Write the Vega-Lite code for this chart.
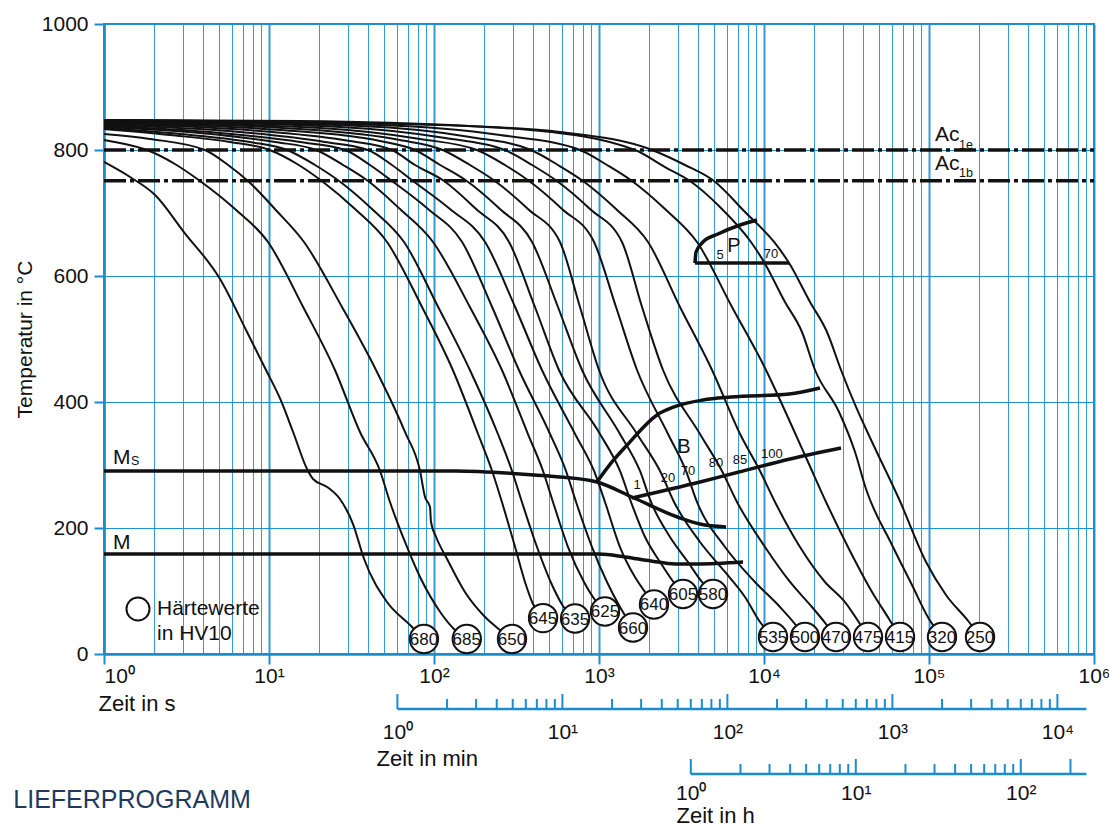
{
  "$schema": "https://vega.github.io/schema/vega-lite/v6.json",
  "padding": {"left": 13, "top": 12, "right": 0, "bottom": 0},
  "bounds": "flush",
  "spacing": 40,
  "config": {"font": "Liberation Sans", "view": {"stroke": null}, "text": {"color": "#111111"}},
  "title": {"text": "LIEFERPROGRAMM", "orient": "bottom", "anchor": "start", "frame": "bounds", "offset": -38, "fontSize": 25, "fontWeight": "normal", "color": "#1d3b5e"},
  "datasets": {
    "curves": [
      {"id":"680","t":1,"T":781},{"id":"680","t":1.438,"T":757.1},{"id":"680","t":2.04,"T":728.6},{"id":"680","t":3.05,"T":669.8},{"id":"680","t":5.05,"T":595.2},{"id":"680","t":7.36,"T":511.1},{"id":"680","t":9.59,"T":450.8},{"id":"680","t":11.7,"T":404.8},{"id":"680","t":14.0,"T":352.4},{"id":"680","t":17.0,"T":293.7},{"id":"680","t":18.5,"T":277.8},{"id":"680","t":22.5,"T":265.1},{"id":"680","t":26.9,"T":246},{"id":"680","t":32.3,"T":206.3},{"id":"680","t":37.7,"T":150.8},{"id":"680","t":51.9,"T":82.5},{"id":"680","t":71.6,"T":46},{"id":"680","t":86.9,"T":23.8},
      {"id":"685","t":1,"T":815.9},{"id":"685","t":1.34,"T":809.5},{"id":"685","t":1.82,"T":800},{"id":"685","t":2.69,"T":777.8},{"id":"685","t":3.82,"T":750.8},{"id":"685","t":6.22,"T":706.3},{"id":"685","t":9.86,"T":654},{"id":"685","t":16.1,"T":550.8},{"id":"685","t":25.1,"T":450.8},{"id":"685","t":35.6,"T":352.4},{"id":"685","t":47.1,"T":290.5},{"id":"685","t":54.1,"T":241.3},{"id":"685","t":66.7,"T":177.8},{"id":"685","t":82.3,"T":122.2},{"id":"685","t":109,"T":66.7},{"id":"685","t":134,"T":38.1},{"id":"685","t":158,"T":23.8},
      {"id":"650","t":1,"T":825.4},{"id":"650","t":1.9,"T":817.5},{"id":"650","t":4.09,"T":800},{"id":"650","t":5.65,"T":776.2},{"id":"650","t":7.46,"T":750.8},{"id":"650","t":11,"T":704.8},{"id":"650","t":16.3,"T":654},{"id":"650","t":27.7,"T":550.8},{"id":"650","t":44.5,"T":450.8},{"id":"650","t":66.7,"T":352.4},{"id":"650","t":82.3,"T":290.5},{"id":"650","t":88.2,"T":249.2},{"id":"650","t":94.6,"T":233.3},{"id":"650","t":95.9,"T":209.5},{"id":"650","t":103,"T":185.7},{"id":"650","t":120,"T":150.8},{"id":"650","t":154,"T":98.4},{"id":"650","t":204,"T":58.7},{"id":"650","t":251,"T":38.1},{"id":"650","t":297,"T":23.8},
      {"id":"645","t":1,"T":833.3},{"id":"645","t":2.51,"T":823.8},{"id":"645","t":5.8,"T":812.7},{"id":"645","t":10.1,"T":800},{"id":"645","t":14.8,"T":777.8},{"id":"645","t":20.9,"T":750.8},{"id":"645","t":33.2,"T":706.3},{"id":"645","t":51.9,"T":654},{"id":"645","t":84.6,"T":550.8},{"id":"645","t":130,"T":450.8},{"id":"645","t":185,"T":349.2},{"id":"645","t":225,"T":290.5},{"id":"645","t":258,"T":241.3},{"id":"645","t":310,"T":169.8},{"id":"645","t":356,"T":114.3},{"id":"645","t":398,"T":79.4},{"id":"645","t":458,"T":57},
      {"id":"635","t":1,"T":834.9},{"id":"635","t":2.89,"T":825.4},{"id":"635","t":7.67,"T":812.7},{"id":"635","t":12.9,"T":800},{"id":"635","t":19,"T":776.2},{"id":"635","t":26.6,"T":750.8},{"id":"635","t":42.1,"T":706.3},{"id":"635","t":65.8,"T":654},{"id":"635","t":106,"T":550.8},{"id":"635","t":165,"T":450.8},{"id":"635","t":244,"T":349.2},{"id":"635","t":297,"T":290.5},{"id":"635","t":341,"T":241.3},{"id":"635","t":421,"T":169.8},{"id":"635","t":526,"T":106.3},{"id":"635","t":605,"T":76.2},{"id":"635","t":716,"T":56.3},
      {"id":"625","t":1,"T":836.5},{"id":"625","t":3.82,"T":827},{"id":"625","t":10.9,"T":812.7},{"id":"625","t":19.3,"T":800},{"id":"625","t":28.1,"T":776.2},{"id":"625","t":39.8,"T":750.8},{"id":"625","t":62.2,"T":706.3},{"id":"625","t":98.6,"T":654},{"id":"625","t":165,"T":550.8},{"id":"625","t":258,"T":450.8},{"id":"625","t":371,"T":349.2},{"id":"625","t":458,"T":290.5},{"id":"625","t":526,"T":241.3},{"id":"625","t":649,"T":169.8},{"id":"625","t":811,"T":114.3},{"id":"625","t":946,"T":85.7},{"id":"625","t":1087,"T":67.5},
      {"id":"660","t":1,"T":838.1},{"id":"660","t":5.05,"T":827},{"id":"660","t":15.4,"T":812.7},{"id":"660","t":28.9,"T":800},{"id":"660","t":40.9,"T":776.2},{"id":"660","t":55.6,"T":750.8},{"id":"660","t":92,"T":706.3},{"id":"660","t":148,"T":654},{"id":"660","t":225,"T":550.8},{"id":"660","t":327,"T":450.8},{"id":"660","t":505,"T":349.2},{"id":"660","t":631,"T":290.5},{"id":"660","t":726,"T":241.3},{"id":"660","t":907,"T":169.8},{"id":"660","t":1118,"T":114.3},{"id":"660","t":1340,"T":74.6},{"id":"660","t":1607,"T":42},
      {"id":"640","t":1,"T":839.7},{"id":"640","t":6.67,"T":828.6},{"id":"640","t":21.8,"T":812.7},{"id":"640","t":39.8,"T":800},{"id":"640","t":55.6,"T":776.2},{"id":"640","t":74.6,"T":750.8},{"id":"640","t":125,"T":706.3},{"id":"640","t":204,"T":654},{"id":"640","t":310,"T":550.8},{"id":"640","t":451,"T":450.8},{"id":"640","t":716,"T":349.2},{"id":"640","t":933,"T":290.5},{"id":"640","t":1087,"T":241.3},{"id":"640","t":1340,"T":169.8},{"id":"640","t":1652,"T":122.2},{"id":"640","t":1901,"T":98.4},{"id":"640","t":2154,"T":78.6},
      {"id":"605","t":1,"T":841.3},{"id":"605","t":8.82,"T":830.2},{"id":"605","t":31,"T":814.3},{"id":"605","t":55.6,"T":800},{"id":"605","t":76.7,"T":776.2},{"id":"605","t":115,"T":750.8},{"id":"605","t":180,"T":706.3},{"id":"605","t":285,"T":654},{"id":"605","t":409,"T":550.8},{"id":"605","t":572,"T":450.8},{"id":"605","t":1014,"T":349.2},{"id":"605","t":1340,"T":290.5},{"id":"605","t":1563,"T":241.3},{"id":"605","t":1901,"T":185.7},{"id":"605","t":2344,"T":146},{"id":"605","t":2770,"T":117.5},{"id":"605","t":3229,"T":95.2},
      {"id":"580","t":1,"T":842.9},{"id":"580","t":11.7,"T":831.7},{"id":"580","t":47.1,"T":814.3},{"id":"580","t":76.7,"T":800},{"id":"580","t":109,"T":776.2},{"id":"580","t":158,"T":750.8},{"id":"580","t":251,"T":706.3},{"id":"580","t":393,"T":654},{"id":"580","t":564,"T":550.8},{"id":"580","t":789,"T":450.8},{"id":"580","t":1340,"T":349.2},{"id":"580","t":1772,"T":290.5},{"id":"580","t":2066,"T":241.3},{"id":"580","t":2693,"T":185.7},{"id":"580","t":3460,"T":146},{"id":"580","t":4207,"T":114.3},{"id":"580","t":4909,"T":95.2},
      {"id":"535","t":1,"T":844.4},{"id":"535","t":15.4,"T":833.3},{"id":"535","t":62.2,"T":815.9},{"id":"535","t":113,"T":800},{"id":"535","t":165,"T":776.2},{"id":"535","t":234,"T":750.8},{"id":"535","t":371,"T":706.3},{"id":"535","t":580,"T":654},{"id":"535","t":767,"T":550.8},{"id":"535","t":1000,"T":450.8},{"id":"535","t":1700,"T":349.2},{"id":"535","t":2344,"T":290.5},{"id":"535","t":2849,"T":241.3},{"id":"535","t":4093,"T":177.8},{"id":"535","t":5804,"T":130.2},{"id":"535","t":7674,"T":90.5},{"id":"535","t":9460,"T":50.8},{"id":"535","t":11340,"T":27},
      {"id":"500","t":1,"T":844.4},{"id":"500","t":20.4,"T":834.9},{"id":"500","t":82.3,"T":817.5},{"id":"500","t":182,"T":800},{"id":"500","t":269,"T":776.2},{"id":"500","t":377,"T":750.8},{"id":"500","t":597,"T":706.3},{"id":"500","t":933,"T":654},{"id":"500","t":1268,"T":550.8},{"id":"500","t":1700,"T":450.8},{"id":"500","t":2620,"T":349.2},{"id":"500","t":3367,"T":290.5},{"id":"500","t":3926,"T":241.3},{"id":"500","t":5804,"T":169.8},{"id":"500","t":8818,"T":114.3},{"id":"500","t":12500,"T":74.6},{"id":"500","t":15420,"T":47.6},{"id":"500","t":17710,"T":27},
      {"id":"470","t":1,"T":846},{"id":"470","t":26.9,"T":836.5},{"id":"470","t":117,"T":819},{"id":"470","t":269,"T":800},{"id":"470","t":393,"T":776.2},{"id":"470","t":556,"T":750.8},{"id":"470","t":882,"T":706.3},{"id":"470","t":1378,"T":654},{"id":"470","t":1823,"T":550.8},{"id":"470","t":2443,"T":450.8},{"id":"470","t":4093,"T":349.2},{"id":"470","t":5561,"T":290.5},{"id":"470","t":6860,"T":241.3},{"id":"470","t":10140,"T":169.8},{"id":"470","t":14380,"T":114.3},{"id":"470","t":19540,"T":74.6},{"id":"470","t":23770,"T":47.6},{"id":"470","t":27310,"T":27},
      {"id":"475","t":1,"T":846},{"id":"475","t":35.6,"T":838.1},{"id":"475","t":165,"T":820.6},{"id":"475","t":387,"T":800},{"id":"475","t":564,"T":776.2},{"id":"475","t":800,"T":750.8},{"id":"475","t":1268,"T":706.3},{"id":"475","t":1982,"T":654},{"id":"475","t":3097,"T":550.8},{"id":"475","t":4842,"T":450.8},{"id":"475","t":7159,"T":349.2},{"id":"475","t":9460,"T":290.5},{"id":"475","t":11660,"T":241.3},{"id":"475","t":16520,"T":169.8},{"id":"475","t":23420,"T":114.3},{"id":"475","t":30960,"T":82.5},{"id":"475","t":38190,"T":47.6},{"id":"475","t":42690,"T":27},
      {"id":"415","t":1,"T":847.6},{"id":"415","t":47.1,"T":839.7},{"id":"415","t":251,"T":823.8},{"id":"415","t":767,"T":800},{"id":"415","t":1118,"T":776.2},{"id":"415","t":1585,"T":750.8},{"id":"415","t":2512,"T":706.3},{"id":"415","t":3926,"T":654},{"id":"415","t":6397,"T":550.8},{"id":"415","t":10280,"T":450.8},{"id":"415","t":14380,"T":368.3},{"id":"415","t":18490,"T":304.8},{"id":"415","t":23770,"T":241.3},{"id":"415","t":32740,"T":166.7},{"id":"415","t":45170,"T":98.4},{"id":"415","t":57250,"T":55.6},{"id":"415","t":66730,"T":27},
      {"id":"320","t":1,"T":847.6},{"id":"320","t":62.2,"T":841.3},{"id":"320","t":382,"T":831.7},{"id":"320","t":1652,"T":800},{"id":"320","t":2512,"T":773},{"id":"320","t":3562,"T":750.8},{"id":"320","t":5411,"T":709.5},{"id":"320","t":8339,"T":654},{"id":"320","t":10000,"T":622.2},{"id":"320","t":13400,"T":558.7},{"id":"320","t":16990,"T":511.1},{"id":"320","t":20380,"T":450.8},{"id":"320","t":28500,"T":384.1},{"id":"320","t":35620,"T":320.6},{"id":"320","t":41520,"T":261.9},{"id":"320","t":59700,"T":173},{"id":"320","t":78850,"T":109.5},{"id":"320","t":100000,"T":55.6},{"id":"320","t":119900,"T":27},
      {"id":"250","t":1,"T":847.6},{"id":"250","t":15.4,"T":846},{"id":"250","t":165,"T":838.1},{"id":"250","t":580,"T":828.6},{"id":"250","t":2094,"T":800},{"id":"250","t":3320,"T":776.2},{"id":"250","t":4977,"T":750.8},{"id":"250","t":7674,"T":701.6},{"id":"250","t":11510,"T":654},{"id":"250","t":14190,"T":620.6},{"id":"250","t":19010,"T":558.7},{"id":"250","t":24090,"T":511.1},{"id":"250","t":29290,"T":450.8},{"id":"250","t":36110,"T":392.1},{"id":"250","t":45170,"T":336.5},{"id":"250","t":65800,"T":246},{"id":"250","t":95940,"T":146},{"id":"250","t":126800,"T":93.7},{"id":"250","t":174700,"T":50.8},{"id":"250","t":203800,"T":27}
    ],
    "phase": [
      {"id":"Ms","t":1,"T":290.5},{"id":"Ms","t":136,"T":290.5},{"id":"Ms","t":332,"T":285.7},{"id":"Ms","t":580,"T":281},{"id":"Ms","t":972,"T":273},{"id":"Ms","t":1630,"T":247.6},{"id":"Ms","t":3097,"T":215.9},{"id":"Ms","t":4093,"T":206.3},{"id":"Ms","t":5888,"T":201.6},
      {"id":"M","t":1,"T":158.7},{"id":"M","t":1000,"T":158.7},{"id":"M","t":1437,"T":154},{"id":"M","t":2066,"T":147.6},{"id":"M","t":2890,"T":142.9},{"id":"M","t":3926,"T":142.9},{"id":"M","t":7460,"T":146},
      {"id":"Bs","t":972,"T":273},{"id":"Bs","t":1199,"T":304.8},{"id":"Bs","t":1500,"T":333.3},{"id":"Bs","t":2248,"T":379.4},{"id":"Bs","t":2849,"T":392.1},{"id":"Bs","t":4268,"T":403.2},{"id":"Bs","t":6310,"T":407.9},{"id":"Bs","t":14190,"T":412.7},{"id":"Bs","t":21840,"T":422.2},
      {"id":"Bf","t":1585,"T":247.6},{"id":"Bf","t":4093,"T":273},{"id":"Bf","t":7047,"T":288.9},{"id":"Bf","t":14380,"T":309.5},{"id":"Bf","t":29290,"T":327},
      {"id":"P","t":3819,"T":620.6},{"id":"P","t":3872,"T":638.1},{"id":"P","t":4268,"T":654},{"id":"P","t":5264,"T":666.7},{"id":"P","t":7159,"T":681},{"id":"P","t":9074,"T":688.9},
      {"id":"Pb","t":3819,"T":620.6},{"id":"Pb","t":14190,"T":620.6}
    ],
    "ac": [
      {"id":"Ac1e","t":1,"T":800},{"id":"Ac1e","t":1000000,"T":800},
      {"id":"Ac1b","t":1,"T":751},{"id":"Ac1b","t":1000000,"T":751}
    ],
    "hard": [
      {"t":86.9,"T":23.8,"hv":"680"},{"t":158,"T":23.8,"hv":"685"},{"t":297,"T":23.8,"hv":"650"},{"t":458,"T":57,"hv":"645"},{"t":716,"T":56.3,"hv":"635"},{"t":1087,"T":67.5,"hv":"625"},{"t":1607,"T":42,"hv":"660"},{"t":2154,"T":78.6,"hv":"640"},{"t":3229,"T":95.2,"hv":"605"},{"t":4909,"T":95.2,"hv":"580"},{"t":11340,"T":27,"hv":"535"},{"t":17710,"T":27,"hv":"500"},{"t":27310,"T":27,"hv":"470"},{"t":42690,"T":27,"hv":"475"},{"t":66730,"T":27,"hv":"415"},{"t":119900,"T":27,"hv":"320"},{"t":203800,"T":27,"hv":"250"}
    ],
    "minTicks": [
      {"m":1,"major":true},{"m":2,"major":false},{"m":3,"major":false},{"m":4,"major":false},{"m":5,"major":false},{"m":6,"major":false},{"m":7,"major":false},{"m":8,"major":false},{"m":9,"major":false},
      {"m":10,"major":true},{"m":20,"major":false},{"m":30,"major":false},{"m":40,"major":false},{"m":50,"major":false},{"m":60,"major":false},{"m":70,"major":false},{"m":80,"major":false},{"m":90,"major":false},
      {"m":100,"major":true},{"m":200,"major":false},{"m":300,"major":false},{"m":400,"major":false},{"m":500,"major":false},{"m":600,"major":false},{"m":700,"major":false},{"m":800,"major":false},{"m":900,"major":false},
      {"m":1000,"major":true},{"m":2000,"major":false},{"m":3000,"major":false},{"m":4000,"major":false},{"m":5000,"major":false},{"m":6000,"major":false},{"m":7000,"major":false},{"m":8000,"major":false},{"m":9000,"major":false},
      {"m":10000,"major":true}
    ],
    "hTicks": [
      {"m":1,"major":true},{"m":2,"major":false},{"m":3,"major":false},{"m":4,"major":false},{"m":5,"major":false},{"m":6,"major":false},{"m":7,"major":false},{"m":8,"major":false},{"m":9,"major":false},
      {"m":10,"major":true},{"m":20,"major":false},{"m":30,"major":false},{"m":40,"major":false},{"m":50,"major":false},{"m":60,"major":false},{"m":70,"major":false},{"m":80,"major":false},{"m":90,"major":false},
      {"m":100,"major":true},{"m":200,"major":true}
    ]
  },
  "vconcat": [
    {
      "width": 990,
      "height": 630,
      "view": {"stroke": "#1a8dd0", "strokeWidth": 2},
      "encoding": {
        "x": {
          "field": "t", "type": "quantitative",
          "scale": {"type": "log", "domain": [1, 1000000], "nice": false},
          "axis": {
            "values": [1,2,3,4,5,6,7,8,9,10,20,30,40,50,60,70,80,90,100,200,300,400,500,600,700,800,900,1000,2000,3000,4000,5000,6000,7000,8000,9000,10000,20000,30000,40000,50000,60000,70000,80000,90000,100000,200000,300000,400000,500000,600000,700000,800000,900000,1000000],
            "labelExpr": "indexof([1,10,100,1000,10000,100000,1000000], datum.value) >= 0 ? '10' + ['⁰','¹','²','³','⁴','⁵','⁶'][round(log(datum.value)/LN10)] : ''",
            "labelFontSize": 21, "labelPadding": 1, "labelFlush": false, "labelOverlap": false, "labelBound": false, "labelColor": "#111111",
            "labelAlign": {"condition": {"test": "datum.value == 1", "value": "left"}, "value": "center"},
            "tickSize": 10, "tickWidth": 2, "tickColor": "#1a8dd0",
            "tickOpacity": {"condition": {"test": "indexof([1,10,100,1000,10000,100000,1000000], datum.value) >= 0", "value": 1}, "value": 0},
            "domainColor": "#1a8dd0", "domainWidth": 2.5,
            "grid": true, "gridColor": "#1e8fd2", "gridOpacity": 0.9,
            "gridWidth": {"condition": {"test": "indexof([1,10,100,1000,10000,100000,1000000], datum.value) >= 0", "value": 2}, "value": 1},
            "title": "Zeit in s", "titleFontSize": 22, "titleFontWeight": "normal", "titleColor": "#111111",
            "titleAlign": "left", "titleBaseline": "alphabetic", "titleX": -6, "titleY": 56
          }
        },
        "y": {
          "field": "T", "type": "quantitative",
          "scale": {"domain": [0, 1000], "nice": false},
          "axis": {
            "values": [0,200,400,600,800,1000], "format": "d",
            "tickSize": 10, "tickWidth": 2, "tickColor": "#1a8dd0",
            "domainColor": "#1a8dd0", "domainWidth": 2.5,
            "grid": true, "gridColor": "#1e8fd2", "gridWidth": 1.2,
            "labelFontSize": 21, "labelPadding": 6, "labelColor": "#111111",
            "title": "Temperatur in °C", "titleFontSize": 21, "titleFontWeight": "normal", "titlePadding": 6, "titleColor": "#111111"
          }
        }
      },
      "layer": [
        {
          "data": {"values": [{}]},
          "mark": {"type": "rect", "fill": "white"},
          "encoding": {"x": {"datum": 1.2}, "x2": {"datum": 11.5}, "y": {"datum": 2}, "y2": {"datum": 103}}
        },
        {
          "data": {"name": "curves"},
          "mark": {"type": "line", "color": "#111111", "strokeWidth": 2, "interpolate": "monotone"},
          "encoding": {"detail": {"field": "id"}}
        },
        {
          "data": {"name": "phase"},
          "mark": {"type": "line", "color": "#111111", "strokeWidth": 3.5, "interpolate": "monotone"},
          "encoding": {"detail": {"field": "id"}}
        },
        {
          "data": {"name": "ac"},
          "mark": {"type": "line", "color": "#111111", "strokeWidth": 3.5, "strokeDash": [22, 4, 4, 4]},
          "encoding": {"detail": {"field": "id"}}
        },
        {
          "data": {"values": [{"t": 1.607, "T": 71.4}]},
          "mark": {"type": "point", "shape": "circle", "filled": true, "fill": "white", "stroke": "#111111", "strokeWidth": 2, "size": 531, "opacity": 1}
        },
        {
          "data": {"name": "hard"},
          "mark": {"type": "point", "shape": "circle", "filled": true, "fill": "white", "stroke": "#111111", "strokeWidth": 2, "size": 804, "opacity": 1}
        },
        {
          "data": {"name": "hard"},
          "mark": {"type": "text", "fontSize": 17, "align": "center", "baseline": "middle", "dy": 1},
          "encoding": {"text": {"field": "hv"}}
        },
        {
          "data": {"values": [
            {"t": 1.134, "T": 301.6, "text": "M"},
            {"t": 1.134, "T": 166.7, "text": "M"},
            {"t": 108700, "T": 814.3, "text": "Ac"},
            {"t": 108700, "T": 768.3, "text": "Ac"},
            {"t": 2.095, "T": 61.9, "text": "Härtewerte"},
            {"t": 2.095, "T": 22.2, "text": "in HV10"}
          ]},
          "mark": {"type": "text", "fontSize": 21, "align": "left", "baseline": "alphabetic"},
          "encoding": {"text": {"field": "text"}}
        },
        {
          "data": {"values": [
            {"t": 1.46, "T": 300, "text": "S"},
            {"t": 152000, "T": 801.6, "text": "1e"},
            {"t": 152000, "T": 757.1, "text": "1b"}
          ]},
          "mark": {"type": "text", "fontSize": 12.5, "align": "left", "baseline": "alphabetic"},
          "encoding": {"text": {"field": "text"}}
        },
        {
          "data": {"values": [
            {"t": 6577, "T": 647.6, "text": "P"},
            {"t": 3276, "T": 328.6, "text": "B"}
          ]},
          "mark": {"type": "text", "fontSize": 20, "align": "center", "baseline": "middle"},
          "encoding": {"text": {"field": "text"}}
        },
        {
          "data": {"values": [
            {"t": 5411, "T": 633.3, "text": "5"},
            {"t": 11020, "T": 634.9, "text": "70"},
            {"t": 1700, "T": 268.3, "text": "1"},
            {"t": 2620, "T": 279.4, "text": "20"},
            {"t": 3460, "T": 290.5, "text": "70"},
            {"t": 5117, "T": 303.2, "text": "80"},
            {"t": 7159, "T": 307.9, "text": "85"},
            {"t": 11170, "T": 317.5, "text": "100"}
          ]},
          "mark": {"type": "text", "fontSize": 13, "align": "center", "baseline": "middle"},
          "encoding": {"text": {"field": "text"}}
        }
      ]
    },
    {
      "width": 990,
      "height": 15,
      "encoding": {
        "x": {
          "field": "m", "type": "quantitative",
          "scale": {"type": "log", "domain": [0.0166667, 16666.67], "nice": false},
          "axis": {
            "values": [1, 10, 100, 1000, 10000],
            "domain": false, "ticks": false, "grid": false,
            "labelExpr": "'10' + ['⁰','¹','²','³','⁴'][round(log(datum.value)/LN10)]",
            "labelFontSize": 21, "labelPadding": 12, "labelFlush": false, "labelOverlap": false, "labelColor": "#111111",
            "title": "Zeit in min", "titleFontSize": 22, "titleFontWeight": "normal", "titleColor": "#111111",
            "titleAlign": "left", "titleBaseline": "alphabetic", "titleX": 272, "titleY": 56
          }
        },
        "y": {"datum": 0, "type": "quantitative", "scale": {"domain": [0, 15]}, "axis": null}
      },
      "layer": [
        {
          "data": {"values": [{"m": 1, "m2": 15000}]},
          "mark": {"type": "rule", "color": "#1a8dd0", "strokeWidth": 2.5},
          "encoding": {"x2": {"field": "m2"}}
        },
        {
          "data": {"name": "minTicks"},
          "transform": [{"filter": "datum.major"}],
          "mark": {"type": "rule", "color": "#1a8dd0", "strokeWidth": 2},
          "encoding": {"y2": {"datum": 15}}
        },
        {
          "data": {"name": "minTicks"},
          "transform": [{"filter": "!datum.major"}],
          "mark": {"type": "rule", "color": "#1a8dd0", "strokeWidth": 2},
          "encoding": {"y2": {"datum": 10}}
        }
      ]
    },
    {
      "width": 990,
      "height": 25,
      "encoding": {
        "x": {
          "field": "m", "type": "quantitative",
          "scale": {"type": "log", "domain": [0.000277778, 277.7778], "nice": false},
          "axis": {
            "values": [1, 10, 100],
            "domain": false, "ticks": false, "grid": false,
            "labelExpr": "'10' + ['⁰','¹','²'][round(log(datum.value)/LN10)]",
            "labelFontSize": 21, "labelPadding": 8, "labelFlush": false, "labelOverlap": false, "labelColor": "#111111",
            "title": "Zeit in h", "titleFontSize": 22, "titleFontWeight": "normal", "titleColor": "#111111",
            "titleAlign": "left", "titleBaseline": "alphabetic", "titleX": 572, "titleY": 48
          }
        },
        "y": {"datum": 0, "type": "quantitative", "scale": {"domain": [0, 25]}, "axis": null}
      },
      "layer": [
        {
          "data": {"values": [{"m": 1, "m2": 250}]},
          "mark": {"type": "rule", "color": "#1a8dd0", "strokeWidth": 2.5},
          "encoding": {"x2": {"field": "m2"}}
        },
        {
          "data": {"name": "hTicks"},
          "transform": [{"filter": "datum.major"}],
          "mark": {"type": "rule", "color": "#1a8dd0", "strokeWidth": 2},
          "encoding": {"y2": {"datum": 15}}
        },
        {
          "data": {"name": "hTicks"},
          "transform": [{"filter": "!datum.major"}],
          "mark": {"type": "rule", "color": "#1a8dd0", "strokeWidth": 2},
          "encoding": {"y2": {"datum": 10}}
        }
      ]
    }
  ]
}
